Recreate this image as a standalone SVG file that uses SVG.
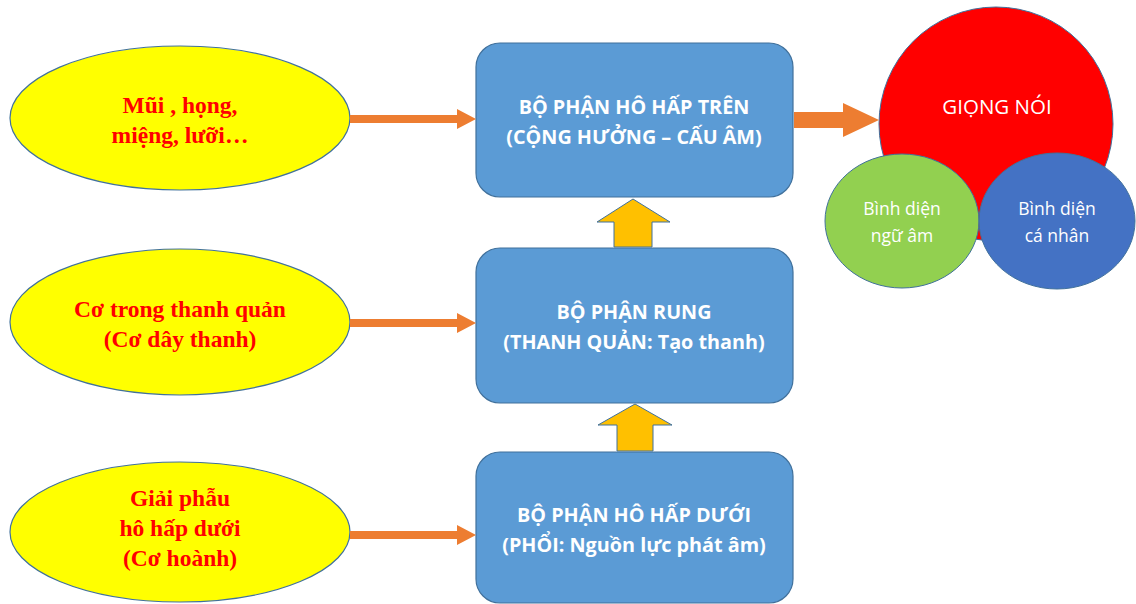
<svg xmlns="http://www.w3.org/2000/svg" width="1136" height="604" viewBox="0 0 1136 604">
  <style>
    .src { fill: #FFFF00; stroke: #41719C; stroke-width: 1.2; }
    .src-text { font-family: "Liberation Serif", serif; font-weight: bold; font-size: 23.5px; fill: #FF0000; text-anchor: middle; }
    .box { fill: #5B9BD5; stroke: #41719C; stroke-width: 1.2; }
    .box-text { font-family: "Open Sans", "Noto Sans", sans-serif; font-weight: 700; font-size: 19.8px; fill: #FFFFFF; text-anchor: middle; }
    .link { fill: #ED7D31; }
    .up { fill: #FFC000; stroke: #41719C; stroke-width: 1; }
    .circ-text { font-family: "Open Sans", "Noto Sans", sans-serif; fill: #FFFFFF; text-anchor: middle; }
  </style>
  <rect width="1136" height="604" fill="#FFFFFF"/>

  <!-- left-hand sources -->
  <g id="src-top">
    <ellipse class="src" cx="180" cy="118" rx="170" ry="72"/>
    <text class="src-text" x="180" y="113">Mũi , họng,</text>
    <text class="src-text" x="180" y="143">miệng, lưỡi…</text>
  </g>
  <g id="src-mid">
    <ellipse class="src" cx="180" cy="322" rx="170" ry="73"/>
    <text class="src-text" x="180" y="317">Cơ trong thanh quản</text>
    <text class="src-text" x="180" y="347">(Cơ dây thanh)</text>
  </g>
  <g id="src-bot">
    <ellipse class="src" cx="180" cy="532" rx="170" ry="70"/>
    <text class="src-text" x="180" y="506">Giải phẫu</text>
    <text class="src-text" x="180" y="536">hô hấp dưới</text>
    <text class="src-text" x="180" y="566">(Cơ hoành)</text>
  </g>

  <!-- central stages -->
  <g id="stage-upper">
    <rect class="box" x="476" y="43" width="317" height="154" rx="24"/>
    <text class="box-text" x="634" y="114">BỘ PHẬN HÔ HẤP TRÊN</text>
    <text class="box-text" x="634" y="144">(CỘNG HƯỞNG – CẤU ÂM)</text>
  </g>
  <g id="stage-vibration">
    <rect class="box" x="476" y="248" width="317" height="155" rx="24"/>
    <text class="box-text" x="634" y="319">BỘ PHẬN RUNG</text>
    <text class="box-text" x="634" y="349">(THANH QUẢN: Tạo thanh)</text>
  </g>
  <g id="stage-lower">
    <rect class="box" x="476" y="452" width="317" height="151" rx="24"/>
    <text class="box-text" x="634" y="522">BỘ PHẬN HÔ HẤP DƯỚI</text>
    <text class="box-text" x="634" y="552">(PHỔI: Nguồn lực phát âm)</text>
  </g>

  <!-- voice and its two aspects -->
  <g id="voice">
    <circle cx="996" cy="124" r="117" fill="#FF0000" stroke="#41719C" stroke-width="1"/>
    <text class="circ-text" x="997" y="114" font-size="20.5">GIỌNG NÓI</text>
  </g>
  <g id="aspect-phonetic">
    <ellipse cx="902" cy="221" rx="77" ry="67" fill="#92D050" stroke="#41719C" stroke-width="1"/>
    <text class="circ-text" x="902" y="215" font-size="17.5">Bình diện</text>
    <text class="circ-text" x="902" y="242" font-size="17.5">ngữ âm</text>
  </g>
  <g id="aspect-personal">
    <ellipse cx="1057" cy="221" rx="78" ry="68" fill="#4472C4" stroke="#41719C" stroke-width="1"/>
    <text class="circ-text" x="1057" y="215" font-size="17.5">Bình diện</text>
    <text class="circ-text" x="1057" y="242" font-size="17.5">cá nhân</text>
  </g>

  <!-- connectors -->
  <g id="connectors">
    <polygon class="link" points="350,115 457,115 457,109 476,119 457,129 457,123 350,123"/>
    <polygon class="link" points="350,319 457,319 457,313 476,323 457,333 457,327 350,327"/>
    <polygon class="link" points="350,531 457,531 457,525 476,535 457,545 457,539 350,539"/>
    <polygon class="link" points="794,112 843,112 843,103 879,120 843,137 843,128 794,128"/>
    <polygon class="up" points="633,199 670,222 652,222 652,247 614,247 614,222 597,222"/>
    <polygon class="up" points="635,404 672,425 653,425 653,451 617,451 617,425 598,425"/>
  </g>
</svg>
